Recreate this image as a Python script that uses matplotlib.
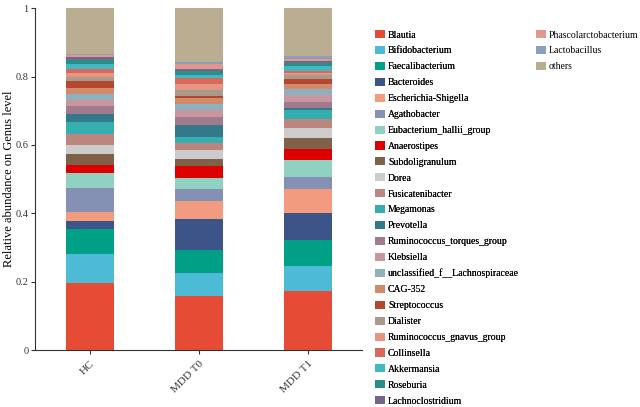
import matplotlib
matplotlib.use("Agg")
import matplotlib.pyplot as plt
from matplotlib.patches import Patch
import numpy as np

plt.rcParams["font.family"] = ["Liberation Serif", "DejaVu Serif"]

groups = ["HC", "MDD T0", "MDD T1"]

genera = [
    "Blautia", "Bifidobacterium", "Faecalibacterium", "Bacteroides",
    "Escherichia-Shigella", "Agathobacter", "Eubacterium_hallii_group",
    "Anaerostipes", "Subdoligranulum", "Dorea", "Fusicatenibacter",
    "Megamonas", "Prevotella", "Ruminococcus_torques_group", "Klebsiella",
    "unclassified_f__Lachnospiraceae", "CAG-352", "Streptococcus",
    "Dialister", "Ruminococcus_gnavus_group", "Collinsella", "Akkermansia",
    "Roseburia", "Lachnoclostridium", "Phascolarctobacterium",
    "Lactobacillus", "others",
]

colors = [
    "#E64B35", "#4DBBD5", "#00A087", "#3C5488", "#F39B7F", "#8491B4",
    "#91D1C2", "#DC0000", "#7E6148", "#CCCCCC", "#BC8580", "#34AEAE",
    "#33798A", "#A17A8E", "#C8969E", "#8FB1BD", "#D28B6A", "#B5472F",
    "#AA9A8C", "#E89482", "#D9695B", "#3FB8C4", "#2A8F86", "#76668E",
    "#E0988E", "#8AA0BA", "#BBAD91",
]

# relative abundance per genus, order as in `genera` (others = remainder)
hc = [0.195, 0.085, 0.073, 0.024, 0.027, 0.070, 0.043, 0.023, 0.034,
      0.027, 0.030, 0.036, 0.022, 0.025, 0.018, 0.016, 0.018, 0.020,
      0.013, 0.012, 0.012, 0.015, 0.010, 0.009, 0.006, 0.003]
mdd_t0 = [0.159, 0.066, 0.068, 0.090, 0.054, 0.033, 0.034, 0.034, 0.022,
          0.024, 0.021, 0.018, 0.036, 0.023, 0.020, 0.018, 0.016, 0.006,
          0.019, 0.018, 0.018, 0.007, 0.012, 0.006, 0.014, 0.005]
mdd_t1 = [0.173, 0.072, 0.077, 0.079, 0.069, 0.035, 0.050, 0.032, 0.032,
          0.029, 0.029, 0.025, 0.006, 0.018, 0.021, 0.016, 0.014, 0.017,
          0.011, 0.005, 0.006, 0.015, 0.009, 0.005, 0.006, 0.010]

data = np.array([hc, mdd_t0, mdd_t1])
data = np.column_stack([data, 1 - data.sum(axis=1)])

fig = plt.figure(figsize=(6.4, 4.07), dpi=100)
ax = fig.add_axes([0.055, 0.14, 0.511, 0.84])

x = np.arange(len(groups))
bottom = np.zeros(len(groups))
for i, name in enumerate(genera):
    ax.bar(x, data[:, i], width=0.44, bottom=bottom, color=colors[i],
           edgecolor="none")
    bottom += data[:, i]

ax.set_xlim(-0.5, 2.5)
ax.set_ylim(0, 1)
ax.set_yticks([0, 0.2, 0.4, 0.6, 0.8, 1])
ax.set_yticklabels(["0", "0.2", "0.4", "0.6", "0.8", "1"], fontsize=7.5)
ax.set_xticks(x)
ax.set_xticklabels(groups, rotation=45, ha="right", rotation_mode="anchor",
                   fontsize=8)
ax.set_ylabel("Relative abundance on Genus level", fontsize=9)
ax.yaxis.set_label_coords(-0.062, 0.5)
for s in ["top", "right"]:
    ax.spines[s].set_visible(False)
ax.spines["left"].set_color("#333333")
ax.spines["bottom"].set_color("#333333")
ax.tick_params(colors="#333333", length=3)
ax.tick_params(axis="y", pad=2)

handles = [Patch(facecolor=c, edgecolor="none") for c in colors]
kw = dict(frameon=False, fontsize=7.0, handlelength=1.03, handleheight=0.9,
          handletextpad=0.3, labelspacing=0.67, borderaxespad=0,
          borderpad=0)
leg1 = fig.legend(handles[:24], genera[:24], loc="upper left",
                  bbox_to_anchor=(0.586, 0.926), **kw)
fig.add_artist(leg1)
fig.legend(handles[24:], genera[24:], loc="upper left",
           bbox_to_anchor=(0.837, 0.926), **kw)

fig.savefig("out.png", dpi=100)
